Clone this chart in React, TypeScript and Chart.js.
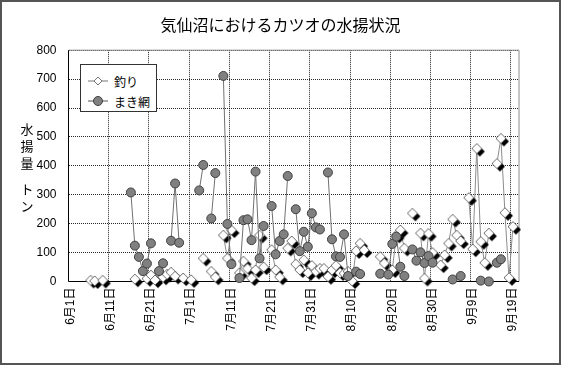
import React, { useEffect, useRef } from "react";
import { Chart, registerables } from "chart.js";

Chart.register(...registerables);

const TITLE = "気仙沼におけるカツオの水揚状況";
const Y_TITLE_TOP = ["水", "揚", "量"];
const Y_TITLE_BOTTOM = ["ト", "ン"];
const SERIES_NAMES = ["釣り", "まき網"];

// categories: every day from 6/1 to 9/20
const MONTHS = [6, 7, 8, 9];
const MONTH_DAYS = [30, 31, 31, 20];
const Y_MIN = 0;
const Y_MAX = 800;
const Y_STEP = 100;

// 釣り (pole and line)
const TSURI_DATES = [
  "6/6", "6/7", "6/9",
  "6/17", "6/20", "6/21", "6/22", "6/24", "6/25", "6/26", "6/27", "6/29", "7/1",
  "7/4", "7/6", "7/7", "7/9", "7/10", "7/11",
  "7/13", "7/14", "7/15", "7/16", "7/17", "7/18", "7/19",
  "7/21", "7/22", "7/23", "7/25", "7/26", "7/27", "7/28", "7/29", "7/30", "7/31",
  "8/1", "8/2", "8/3", "8/4", "8/5", "8/6", "8/7", "8/8", "8/9", "8/10", "8/11", "8/12", "8/13",
  "8/17", "8/18", "8/20", "8/21", "8/22", "8/23", "8/25", "8/27", "8/28", "8/29", "8/30",
  "9/1", "9/2", "9/3", "9/4", "9/5", "9/6", "9/8", "9/9", "9/10", "9/11", "9/12", "9/13",
  "9/15", "9/16", "9/17", "9/18", "9/19",
];
const TSURI_VALUES = [
  4, 2, 4,
  8, 10, 22, 5, 15, 25, 32, 18, 12, 6,
  80, 35, 15, 160, 80, 178,
  30, 70, 45, 12, 40, 160, 50,
  110, 40, 15, 115, 140, 60, 40, 75, 30, 55,
  35, 45, 45, 17, 40, 55, 30, 28, 35, 2, 106, 132, 109,
  86, 63, 40, 160, 178, 115, 236, 167, 11, 166, 100,
  57, 92, 132, 215, 160, 140, 290, 112, 460, 138, 65, 167,
  408, 495, 238, 13, 190,
];

// まき網 (purse seine)
const MAKI_DATES = [
  "6/16", "6/17", "6/18", "6/19", "6/20", "6/21", "6/23", "6/24",
  "6/26", "6/27", "6/28", "7/3", "7/4", "7/6", "7/7",
  "7/9", "7/10", "7/11", "7/13", "7/14", "7/15", "7/16", "7/17", "7/18", "7/19",
  "7/21", "7/22", "7/23", "7/24", "7/25", "7/27", "7/28", "7/29", "7/30", "7/31",
  "8/1", "8/2", "8/4", "8/5", "8/6", "8/7", "8/8", "8/9", "8/11", "8/12",
  "8/17", "8/19", "8/20", "8/21", "8/22", "8/23",
  "8/25", "8/26", "8/27", "8/28", "8/29", "8/30",
  "9/4", "9/6", "9/11", "9/13", "9/15", "9/16",
];
const MAKI_VALUES = [
  308, 124, 85, 36, 62, 132, 36, 63,
  141, 339, 134, 315, 403, 218, 375,
  711, 199, 60, 12, 212, 215, 143, 380, 80, 192,
  261, 94, 140, 163, 365, 250, 105, 172, 120, 236,
  187, 180, 377, 146, 87, 85, 163, 19, 34, 26,
  27, 24, 130, 155, 51, 19,
  111, 72, 101, 64, 88, 65,
  7, 19, 3, 0, 65, 77,
];

const FONT_JP = "'Noto Sans CJK JP', 'Noto Sans', sans-serif";
const FONT_NUM = "'Liberation Sans', Arial, 'Noto Sans CJK JP', sans-serif";
const GRID = "rgba(0,0,0,0.85)";

function buildCategories() {
  const keys: string[] = [];
  const labels: string[] = [];
  MONTHS.forEach((m, i) => {
    for (let d = 1; d <= MONTH_DAYS[i]; d++) {
      keys.push(`${m}/${d}`);
      labels.push(`${m}月${d}日`);
    }
  });
  return { keys, labels };
}

function toSeries(keys: string[], dates: string[], values: number[]) {
  const arr: (number | null)[] = keys.map(() => null);
  dates.forEach((k, i) => {
    const idx = keys.indexOf(k);
    if (idx >= 0) arr[idx] = values[i];
  });
  return arr;
}

function makeDiamond() {
  const c = document.createElement("canvas");
  c.width = 22;
  c.height = 22;
  const g = c.getContext("2d")!;
  const r = 5;
  const off = 3;
  const dia = (x: number, y: number) => {
    g.beginPath();
    g.moveTo(x, y - r);
    g.lineTo(x + r, y);
    g.lineTo(x, y + r);
    g.lineTo(x - r, y);
    g.closePath();
  };
  dia(11 + off, 11 + off);
  g.fillStyle = "#000";
  g.fill();
  dia(11, 11);
  g.fillStyle = "#fff";
  g.fill();
  g.strokeStyle = "#6a6a6a";
  g.lineWidth = 1;
  g.stroke();
  return c;
}

const framePlugin = {
  id: "frame",
  beforeDatasetsDraw(chart: any) {
    const { ctx, chartArea: a } = chart;
    ctx.save();
    ctx.lineWidth = 1;
    ctx.strokeStyle = "#8c8c8c";
    ctx.beginPath();
    ctx.moveTo(a.left, a.top);
    ctx.lineTo(a.right, a.top);
    ctx.lineTo(a.right, a.bottom);
    ctx.stroke();
    ctx.strokeStyle = "#000";
    ctx.beginPath();
    ctx.moveTo(a.left, a.top);
    ctx.lineTo(a.left, a.bottom);
    ctx.lineTo(a.right, a.bottom);
    ctx.stroke();
    ctx.restore();
  },
};

export default function App() {
  const ref = useRef<HTMLCanvasElement | null>(null);

  useEffect(() => {
    const canvas = ref.current;
    if (!canvas) return;
    const { keys, labels } = buildCategories();
    const tsuri = toSeries(keys, TSURI_DATES, TSURI_VALUES);
    const maki = toSeries(keys, MAKI_DATES, MAKI_VALUES);
    const diamond = makeDiamond();

    const chart = new Chart(canvas, {
      type: "line",
      data: {
        labels,
        datasets: [
          {
            label: SERIES_NAMES[0],
            data: tsuri,
            order: 2,
            borderColor: "#8c8c8c",
            borderWidth: 1,
            pointStyle: diamond as any,
            pointRadius: 5,
            spanGaps: false,
            fill: false,
            tension: 0,
            clip: false as any,
          },
          {
            label: SERIES_NAMES[1],
            data: maki,
            order: 1,
            borderColor: "#707070",
            borderWidth: 1,
            pointStyle: "circle",
            pointRadius: 4.5,
            pointBackgroundColor: "#808080",
            pointBorderColor: "#404040",
            pointBorderWidth: 1,
            spanGaps: false,
            fill: false,
            tension: 0,
            clip: false as any,
          },
        ],
      },
      options: {
        responsive: false,
        animation: false,
        events: [],
        layout: { padding: { left: 0, right: 0, top: 0, bottom: 0 } },
        plugins: {
          legend: { display: false },
          tooltip: { enabled: false },
          title: {
            display: true,
            text: TITLE,
            color: "#000",
            font: { family: FONT_JP, size: 16, weight: "normal", lineHeight: 1.2 },
            padding: { top: 15, bottom: 16 },
          },
        },
        scales: {
          x: {
            type: "category",
            offset: true,
            grid: {
              offset: true,
              drawTicks: false,
              lineWidth: 1,
              color: (ctx: any) => (ctx.index > 0 && ctx.index % 10 === 0 ? GRID : "rgba(0,0,0,0)"),
            },
            border: { display: false, dash: [1, 1] },
            ticks: {
              autoSkip: false,
              minRotation: 90,
              maxRotation: 90,
              padding: 6,
              color: "#000",
              font: { family: FONT_NUM, size: 12 },
              callback: (_v: any, i: number) => (i % 10 === 0 ? labels[i] : ""),
            },
            afterFit: (s: any) => {
              s.height = 83.5;
            },
          },
          y: {
            min: Y_MIN,
            max: Y_MAX,
            grid: {
              drawTicks: false,
              lineWidth: 1,
              color: (ctx: any) => (ctx.index > 0 ? GRID : "rgba(0,0,0,0)"),
            },
            border: { display: false, dash: [1, 1] },
            ticks: {
              stepSize: Y_STEP,
              padding: 12,
              color: "#000",
              font: { family: FONT_NUM, size: 12 },
            },
            afterFit: (s: any) => {
              s.width = 68.5;
            },
          },
          yRight: {
            position: "right",
            min: Y_MIN,
            max: Y_MAX,
            grid: { display: false, drawTicks: false },
            border: { display: false },
            ticks: { display: false },
            afterFit: (s: any) => {
              s.width = 42;
            },
          },
        },
      },
      plugins: [framePlugin],
    } as any);

    return () => chart.destroy();
  }, []);

  const charStyle: React.CSSProperties = { height: 17, lineHeight: "17px", textAlign: "center" };

  return (
    <div
      style={{
        position: "absolute",
        left: 0,
        top: 0,
        width: 561,
        height: 365,
        background: "#fff",
        overflow: "hidden",
      }}
    >
      <canvas ref={ref} width={561} height={365} style={{ display: "block", position: "absolute", left: 0, top: 0 }} />
      <div
        style={{
          position: "absolute",
          left: 19,
          top: 120,
          width: 16,
          fontFamily: FONT_JP,
          fontSize: 13,
          color: "#000",
        }}
      >
        {Y_TITLE_TOP.map((c) => (
          <div key={c} style={charStyle}>{c}</div>
        ))}
      </div>
      <div
        style={{
          position: "absolute",
          left: 19,
          top: 180,
          width: 16,
          fontFamily: FONT_JP,
          fontSize: 13,
          color: "#000",
        }}
      >
        {Y_TITLE_BOTTOM.map((c) => (
          <div key={c} style={charStyle}>{c}</div>
        ))}
      </div>
      <div
        style={{
          position: "absolute",
          left: 80,
          top: 64,
          width: 77,
          height: 48,
          boxSizing: "border-box",
          border: "1px solid #333",
          background: "#fff",
          fontFamily: FONT_JP,
          fontSize: 12,
          color: "#000",
        }}
      >
        <div style={{ position: "absolute", left: 6, top: 8, height: 16, display: "flex", alignItems: "center" }}>
          <svg width={22} height={16}>
            <line x1={1} y1={8} x2={21} y2={8} stroke="#777" strokeWidth={1} />
            <polygon points="11,4 15,8 11,12 7,8" fill="#fff" stroke="#777" strokeWidth={1} />
          </svg>
          <span style={{ marginLeft: 5 }}>{SERIES_NAMES[0]}</span>
        </div>
        <div style={{ position: "absolute", left: 6, top: 28, height: 16, display: "flex", alignItems: "center" }}>
          <svg width={22} height={16}>
            <line x1={1} y1={8} x2={21} y2={8} stroke="#555" strokeWidth={1} />
            <circle cx={11} cy={8} r={4.5} fill="#808080" stroke="#404040" strokeWidth={1} />
          </svg>
          <span style={{ marginLeft: 5 }}>{SERIES_NAMES[1]}</span>
        </div>
      </div>
      <div
        style={{
          position: "absolute",
          left: 0,
          top: 0,
          width: 561,
          height: 365,
          boxSizing: "border-box",
          border: "2px solid #555",
          pointerEvents: "none",
        }}
      />
    </div>
  );
}
